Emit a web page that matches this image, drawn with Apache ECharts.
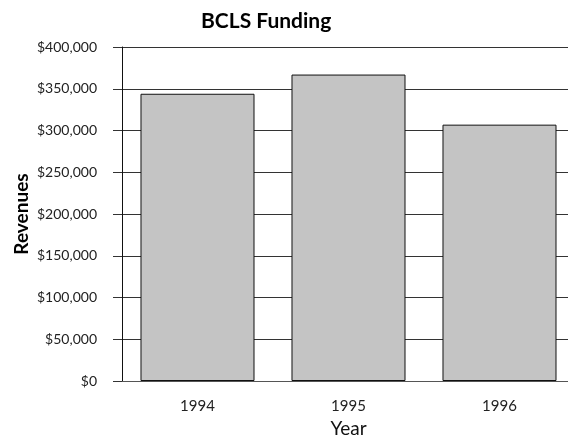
<!DOCTYPE html>
<html><head><meta charset="utf-8">
<script src="https://cdn.jsdelivr.net/npm/echarts@6/dist/echarts.min.js"></script>
<style>html,body{margin:0;padding:0;background:#fff;overflow:hidden}#c{width:568px;height:438px}</style>
</head><body><div id="c"></div>
<script>
const years = ['1994', '1995', '1996'];
const revenues = [344000, 367000, 307000];
const yTicks = { min: 0, max: 400000, interval: 50000 };

const chart = echarts.init(document.getElementById('c'), null, { renderer: 'canvas', width: 568, height: 438 });
const FONT = 'Lato';
chart.setOption({
  animation: false,
  backgroundColor: '#fff',
  title: {
    text: 'BCLS Funding', left: 196, top: 6,
    textStyle: { fontFamily: FONT, fontWeight: 'bold', fontSize: 21, color: '#000' }
  },
  grid: { left: 122, top: 47, width: 453, height: 334, containLabel: false, outerBoundsMode: 'none' },
  xAxis: [{
    type: 'category', data: years,
    name: 'Year', nameLocation: 'middle', nameGap: 37,
    nameTextStyle: { fontFamily: FONT, fontSize: 19, color: '#111' },
    axisLine: { lineStyle: { color: '#555', width: 1 } },
    axisTick: { alignWithLabel: true, length: 8, lineStyle: { color: '#333' } },
    axisLabel: { fontFamily: FONT, fontSize: 15, color: '#222', margin: 18 }
  }, {
    type: 'category', data: years, position: 'bottom', offset: 0,
    axisLine: { show: false },
    axisTick: { length: 2, lineStyle: { color: '#333' } },
    axisLabel: { show: false }
  }],
  yAxis: {
    type: 'value', min: yTicks.min, max: yTicks.max, interval: yTicks.interval,
    name: 'Revenues', nameLocation: 'middle', nameGap: 91, nameRotate: 90, nameMoveOverlap: false,
    nameTextStyle: { fontFamily: FONT, fontWeight: 'bold', fontSize: 19, color: '#000' },
    axisLine: { show: true, lineStyle: { color: '#111', width: 1 } },
    axisTick: { show: true, length: 9, lineStyle: { color: '#333' } },
    splitLine: { lineStyle: { color: '#333', width: 1 } },
    axisLabel: {
      fontFamily: FONT, fontSize: 14, color: '#222', margin: 25,
      formatter: v => '$' + v.toLocaleString('en-US')
    }
  },
  series: [{
    type: 'bar', data: revenues, xAxisIndex: 0,
    barCategoryGap: '24.5%',
    itemStyle: { color: '#c4c4c4', borderColor: '#111', borderWidth: 1 }
  }]
});
</script></body></html>
